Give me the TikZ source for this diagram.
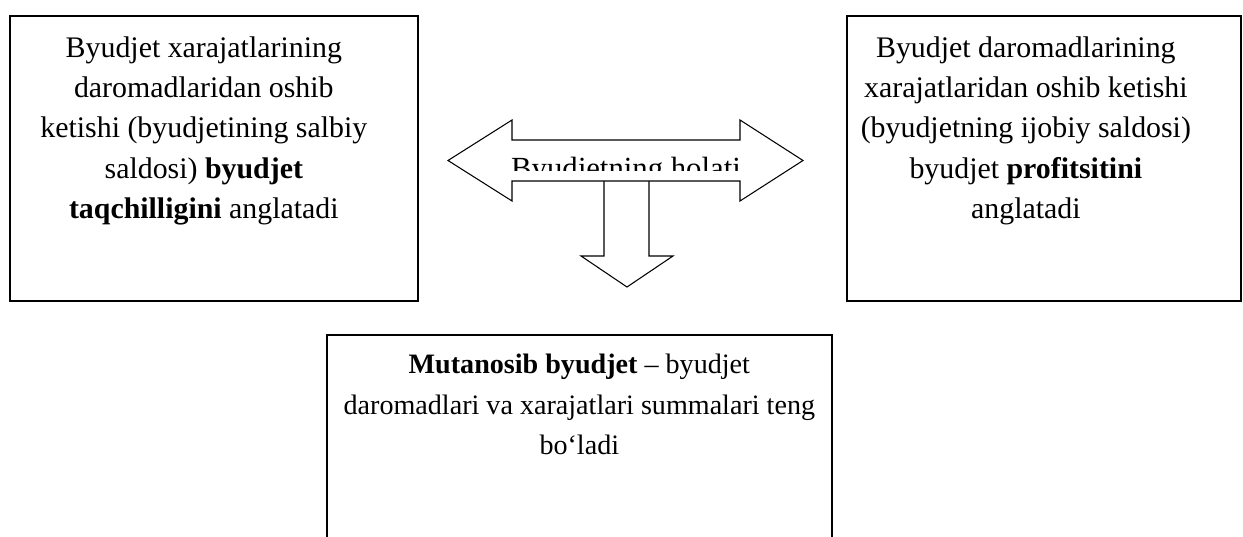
\documentclass[tikz,border=0pt]{standalone}
\usepackage{fontspec}
\setmainfont{Liberation Serif}
\usetikzlibrary{positioning}

\tikzset{
  panel/.style={draw, line width=1pt, inner sep=0pt, anchor=north west},
  txt/.style={align=center, inner sep=0pt, font=\fontsize{17}{23}\selectfont},
  smalltxt/.style={txt, font=\fontsize{16}{23.2}\selectfont},
  blockarrow/.style={draw, fill=white, line width=0.6pt, line join=miter}
}

\begin{document}
\begin{tikzpicture}[x=0.02cm, y=-0.02cm]
  % page frame
  \clip (0,0) rectangle (1243,537);
  % the three boxes
  \node[panel, minimum width=8.16cm, minimum height=5.7cm] (deficit) at (9,15) {};
  \node[panel, minimum width=7.88cm, minimum height=5.7cm] (surplus) at (846,15) {};
  \node[panel, minimum width=10.1cm, minimum height=5cm] (balanced) at (326,334) {};
  % box texts
  \node[txt, below=0.42cm of deficit.north, xshift=-0.2cm] (deficittext)
    {Byudjet xarajatlarining\\ daromadlaridan oshib\\ ketishi (byudjetining salbiy\\
     saldosi) \textbf{byudjet}\\ \textbf{taqchilligini} anglatadi};
  \node[txt, below=0.42cm of surplus.north, xshift=-0.36cm] (surplustext)
    {Byudjet daromadlarining\\ xarajatlaridan oshib ketishi\\ (byudjetning ijobiy saldosi)\\
     byudjet \textbf{profitsitini}\\ anglatadi};
  \node[smalltxt, below=0.39cm of balanced.north] (balancedtext)
    {\textbf{Mutanosib byudjet} – byudjet\\ daromadlari va xarajatlari summalari teng\\ bo‘ladi};
  % down arrow, its top hidden under the double arrow
  \draw[blockarrow] (604,170) -- (604,256) -- (581,256) -- (627,287) -- (673,256) -- (649,256) -- (649,170);
  % double arrow
  \draw[blockarrow] (448,160.5) -- (512,120) -- (512,140) -- (740,140) -- (740,120) -- (803,160.5)
    -- (740,201) -- (740,181) -- (512,181) -- (512,201) -- cycle;
  % label cut off by its frame
  \begin{scope}
    \clip (505,140) rectangle (745,170);
    \node[txt, font=\fontsize{17.5}{23}\selectfont, anchor=base] (state) at (626,178) {Byudjetning holati};
  \end{scope}
\end{tikzpicture}
\end{document}
